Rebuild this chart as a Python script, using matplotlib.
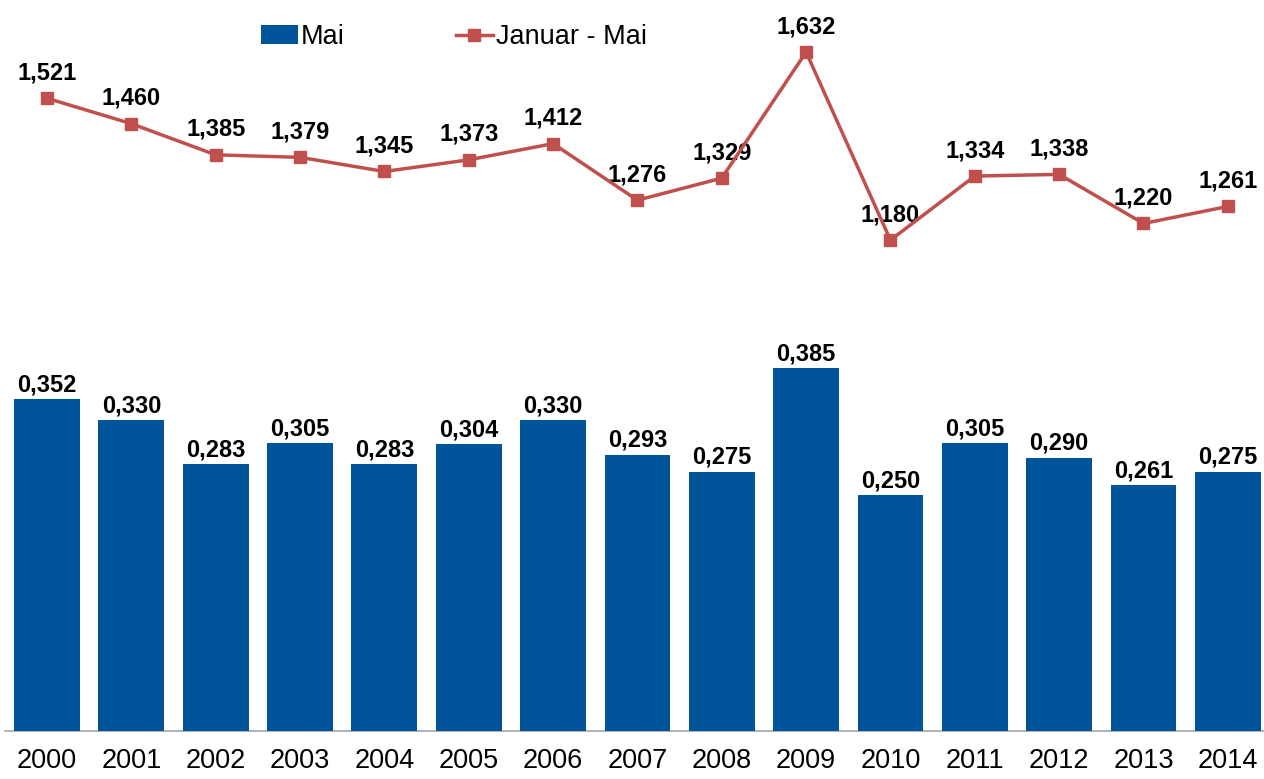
import matplotlib
matplotlib.use("Agg")
import matplotlib.pyplot as plt
from matplotlib.patches import Patch
from matplotlib.lines import Line2D

years = ["2000", "2001", "2002", "2003", "2004", "2005", "2006", "2007",
         "2008", "2009", "2010", "2011", "2012", "2013", "2014"]
mai = [0.352, 0.330, 0.283, 0.305, 0.283, 0.304, 0.330, 0.293,
       0.275, 0.385, 0.250, 0.305, 0.290, 0.261, 0.275]
jan_mai = [1.521, 1.460, 1.385, 1.379, 1.345, 1.373, 1.412, 1.276,
           1.329, 1.632, 1.180, 1.334, 1.338, 1.220, 1.261]

BLUE = "#00559A"
RED = "#C0504D"

plt.rcParams["font.family"] = ["Liberation Sans", "DejaVu Sans"]

fig = plt.figure(figsize=(12.64, 7.79), dpi=100)
W, H = 1264, 779
left_px, right_px = 4.8, 1270.0
base_px = 731.0
ax = fig.add_axes([left_px / W, (H - base_px) / H, (right_px - left_px) / W, base_px / H])
ax2 = ax.twinx()

x = list(range(len(years)))
ax.bar(x, mai, width=0.78, color=BLUE, zorder=3)
ax.set_xlim(-0.5, len(years) - 0.5)
ax.set_ylim(0, base_px / 943.0)
ax2.set_ylim(0, base_px / 416.0)

def fmt(v):
    return f"{v:.3f}".replace(".", ",")

for xi, v in zip(x, mai):
    ax.annotate(fmt(v), (xi, v), xytext=(0, 2), textcoords="offset points",
                ha="center", va="bottom", fontsize=17, fontweight="bold", color="black")

ax2.plot(x, jan_mai, color=RED, linewidth=2.5, marker="s", markersize=8.5, zorder=4)
for xi, v in zip(x, jan_mai):
    ax2.annotate(fmt(v), (xi, v), xytext=(0, 10), textcoords="offset points",
                 ha="center", va="bottom", fontsize=17, fontweight="bold", color="black")

for a in (ax, ax2):
    for s in ("top", "right", "left"):
        a.spines[s].set_visible(False)
    a.set_yticks([])
ax2.spines["bottom"].set_visible(False)
ax.spines["bottom"].set_color("#A6A6A6")
ax.spines["bottom"].set_linewidth(1.2)
ax.spines["bottom"].set_zorder(2)

ax.set_xticks(x)
ax.set_xticklabels(years, fontsize=19.5)
ax.tick_params(axis="x", length=0, pad=12)
ax2.tick_params(axis="x", length=0)

handles = [Patch(facecolor=BLUE, edgecolor="none"),
           Line2D([0], [0], color=RED, linewidth=2.5, marker="s", markersize=8.5)]
fig.legend(handles, ["Mai", "Januar - Mai"], loc="center left",
           bbox_to_anchor=(261 / W, 1 - 37 / H), ncol=2, frameon=False,
           fontsize=19.5, handlelength=1.37, handletextpad=0.1, columnspacing=4.1,
           borderpad=0, borderaxespad=0)

fig.savefig("out.png", dpi=100)
